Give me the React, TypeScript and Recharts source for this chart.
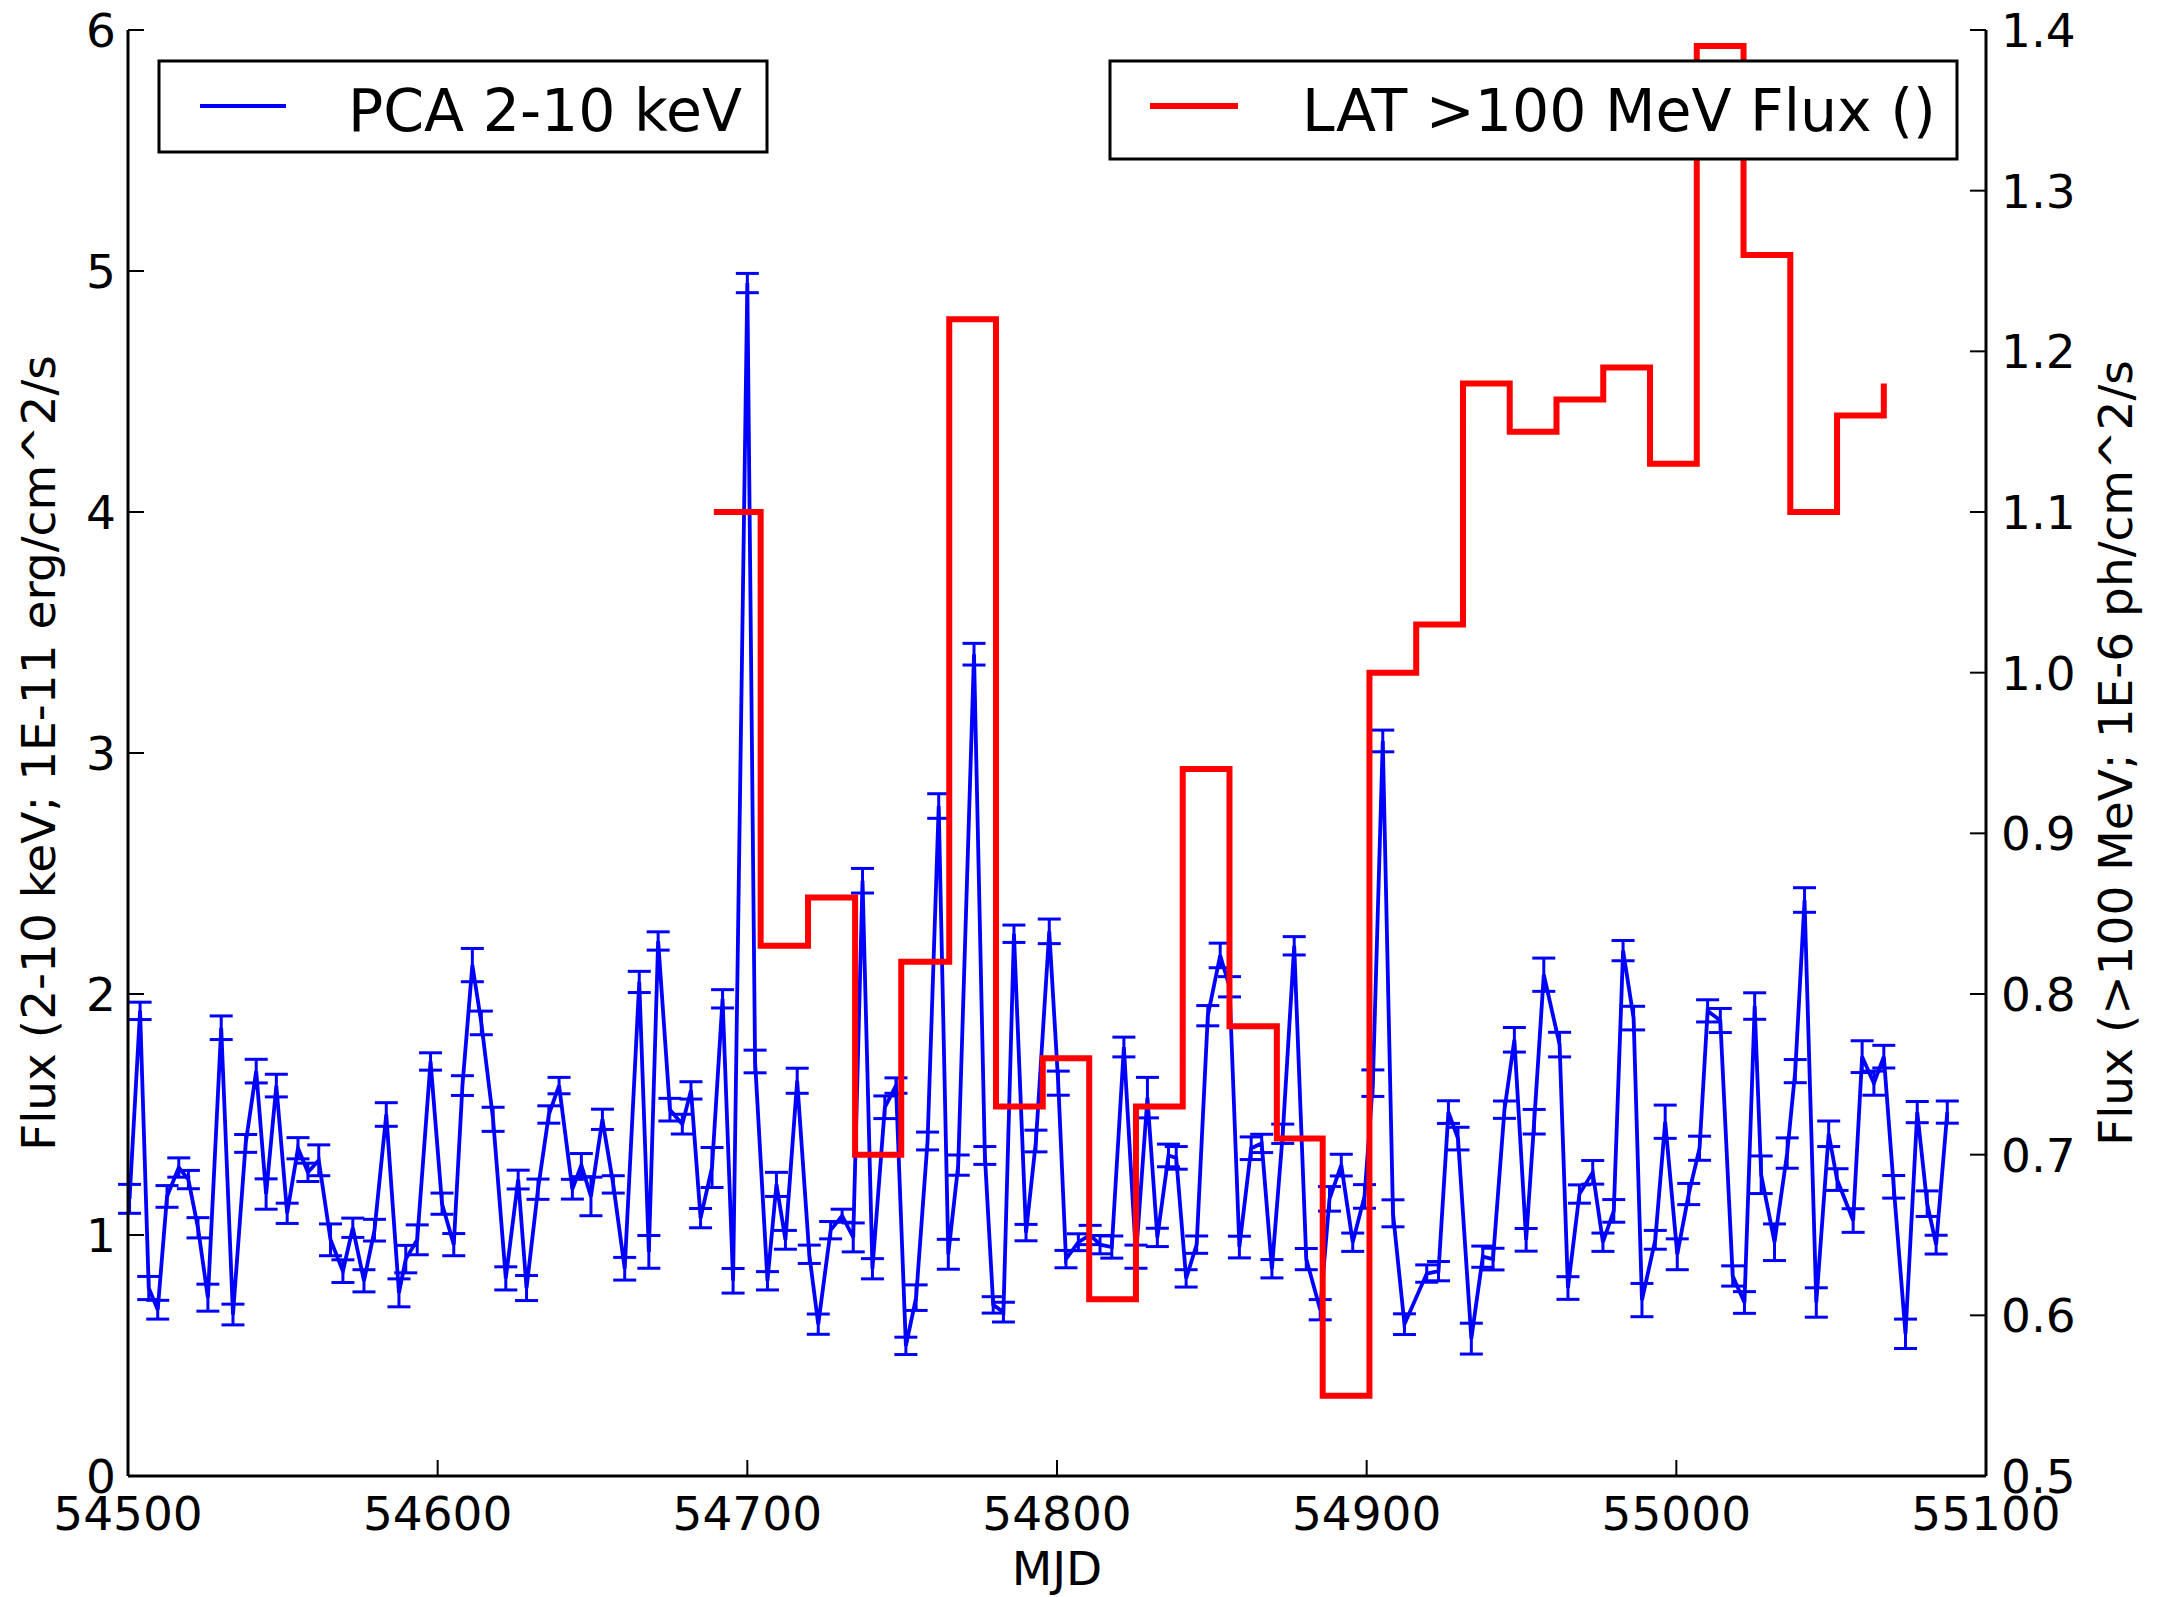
import React from "react";
import { LineChart, Line, XAxis, YAxis, ErrorBar, Legend } from "recharts";

// RXTE PCA 2-10 keV light curve (MJD, flux in 1E-11 erg/cm^2/s, 1-sigma error)
const pcaMjd = [
  54500.5, 54503.9, 54506.7, 54509.6, 54512.6, 54516.4, 54519.5, 54522.6, 54525.8, 54530.1,
  54533.9, 54538.0, 54541.4, 54544.6, 54547.9, 54551.4, 54554.9, 54558.1, 54561.6, 54565.4,
  54569.4, 54572.6, 54576.2, 54579.6, 54583.4, 54587.5, 54589.7, 54593.4, 54597.7, 54601.4,
  54605.2, 54608.0, 54611.2, 54614.1, 54617.9, 54622.0, 54626.0, 54628.7, 54632.4, 54635.9,
  54639.2, 54643.5, 54646.4, 54649.5, 54653.2, 54656.7, 54660.4, 54665.1, 54668.2, 54671.2,
  54675.0, 54679.0, 54681.8, 54684.9, 54688.6, 54692.0, 54695.4, 54700.0, 54702.5, 54706.5,
  54709.4, 54712.3, 54716.1, 54720.0, 54722.9, 54726.9, 54730.6, 54734.2, 54737.2, 54740.4,
  54744.4, 54748.0, 54751.2, 54754.5, 54758.2, 54761.8, 54764.9, 54768.1, 54773.2, 54776.7,
  54779.4, 54782.7, 54786.1, 54790.0, 54793.2, 54797.5, 54800.4, 54802.9, 54806.9, 54810.7,
  54813.9, 54817.7, 54821.6, 54825.5, 54829.2, 54832.4, 54836.0, 54838.5, 54841.7, 54845.1,
  54848.7, 54852.7, 54855.7, 54858.9, 54862.7, 54866.1, 54869.4, 54872.9, 54876.6, 54880.5,
  54885.0, 54888.0, 54891.8, 54895.5, 54899.3, 54902.0, 54905.2, 54908.5, 54912.2, 54919.4,
  54923.2, 54926.4, 54929.5, 54933.8, 54937.5, 54940.8, 54944.5, 54947.7, 54951.5, 54954.1,
  54957.2, 54962.3, 54965.0, 54968.7, 54973.0, 54976.3, 54979.8, 54982.8, 54986.2, 54988.9,
  54993.2, 54996.4, 55000.3, 55004.0, 55007.5, 55010.1, 55014.2, 55018.2, 55022.0, 55025.3,
  55027.4, 55031.7, 55035.8, 55038.4, 55041.4, 55045.2, 55049.2, 55051.9, 55057.1, 55060.0,
  55063.8, 55067.0, 55070.2, 55074.0, 55077.8, 55081.0, 55083.9, 55087.5,
];
const pcaFlux = [
  1.15, 1.93, 0.78, 0.69, 1.16, 1.28, 1.23, 1.03, 0.74, 1.86,
  0.67, 1.38, 1.68, 1.17, 1.62, 1.09, 1.36, 1.26, 1.31, 0.98,
  0.85, 1.03, 0.81, 1.02, 1.50, 0.76, 0.90, 0.98, 1.72, 1.13,
  0.96, 1.62, 2.12, 1.88, 1.48, 0.82, 1.23, 0.78, 1.19, 1.50,
  1.62, 1.19, 1.29, 1.16, 1.48, 1.21, 0.86, 2.05, 0.93, 2.22,
  1.52, 1.46, 1.60, 1.07, 1.28, 1.98, 0.81, 4.95, 1.72, 0.81,
  1.21, 0.98, 1.64, 0.92, 0.63, 1.02, 1.08, 0.99, 2.47, 0.86,
  1.53, 1.62, 0.54, 0.74, 1.39, 2.78, 0.92, 1.29, 3.41, 1.33,
  0.71, 0.68, 2.25, 1.01, 1.39, 2.26, 1.63, 0.90, 0.97, 1.00,
  0.96, 0.95, 1.78, 0.91, 1.57, 0.99, 1.33, 1.32, 0.82, 0.96,
  1.91, 2.16, 2.03, 0.95, 1.36, 1.38, 0.86, 1.42, 2.20, 0.90,
  0.69, 1.15, 1.29, 0.97, 1.16, 1.63, 3.05, 1.09, 0.63, 0.84,
  0.85, 1.51, 1.40, 0.57, 0.91, 0.90, 1.52, 1.81, 0.98, 1.47,
  2.08, 1.79, 0.78, 1.17, 1.26, 0.97, 1.10, 2.18, 1.90, 0.73,
  0.98, 1.47, 0.92, 1.17, 1.36, 1.93, 1.89, 0.83, 0.72, 1.95,
  1.25, 0.97, 1.34, 1.68, 2.39, 0.72, 1.42, 1.23, 1.06, 1.74,
  1.63, 1.74, 1.20, 0.59, 1.51, 1.13, 0.96, 1.51,
];
const pcaErr = [
  0.06, 0.036, 0.048, 0.039, 0.045, 0.04, 0.038, 0.042, 0.056, 0.049,
  0.043, 0.037, 0.049, 0.063, 0.047, 0.042, 0.044, 0.038, 0.064, 0.066,
  0.047, 0.04, 0.046, 0.045, 0.049, 0.058, 0.057, 0.062, 0.036, 0.044,
  0.046, 0.041, 0.069, 0.049, 0.05, 0.048, 0.039, 0.052, 0.042, 0.036,
  0.034, 0.041, 0.048, 0.08, 0.042, 0.036, 0.047, 0.044, 0.068, 0.038,
  0.047, 0.041, 0.036, 0.04, 0.083, 0.038, 0.051, 0.04, 0.047, 0.038,
  0.05, 0.039, 0.052, 0.038, 0.042, 0.036, 0.027, 0.06, 0.051, 0.042,
  0.047, 0.032, 0.036, 0.053, 0.037, 0.051, 0.062, 0.042, 0.045, 0.037,
  0.034, 0.041, 0.036, 0.034, 0.045, 0.051, 0.05, 0.036, 0.035, 0.04,
  0.038, 0.046, 0.041, 0.048, 0.084, 0.038, 0.047, 0.047, 0.036, 0.036,
  0.042, 0.051, 0.042, 0.045, 0.047, 0.038, 0.038, 0.04, 0.038, 0.044,
  0.042, 0.051, 0.045, 0.038, 0.049, 0.055, 0.045, 0.056, 0.043, 0.036,
  0.04, 0.047, 0.047, 0.064, 0.044, 0.045, 0.036, 0.051, 0.047, 0.051,
  0.069, 0.051, 0.047, 0.038, 0.049, 0.038, 0.047, 0.042, 0.049, 0.069,
  0.039, 0.069, 0.064, 0.044, 0.05, 0.046, 0.05, 0.042, 0.045, 0.055,
  0.078, 0.076, 0.063, 0.048, 0.051, 0.061, 0.053, 0.045, 0.049, 0.066,
  0.05, 0.047, 0.047, 0.061, 0.044, 0.053, 0.039, 0.046,
];

// Fermi LAT >100 MeV binned flux (bin start MJD, 1E-6 ph/cm^2/s)
const latMjd = [
  54689.2, 54704.3, 54719.6, 54734.8, 54749.7, 54765.2, 54780.3, 54795.4, 54810.4, 54825.5,
  54840.6, 54855.7, 54871.0, 54885.8, 54900.9, 54916.0, 54931.1, 54946.2, 54961.3, 54976.4,
  54991.5, 55006.6, 55021.7, 55036.8, 55051.9, 55067.0,
];
const latFlux = [
  1.10, 0.83, 0.86, 0.70, 0.82, 1.22, 0.73, 0.76, 0.61, 0.73,
  0.94, 0.78, 0.71, 0.55, 1.00, 1.03, 1.18, 1.15, 1.17, 1.19,
  1.13, 1.39, 1.26, 1.10, 1.16, 1.18,
];

const mjdTicks = [54500, 54600, 54700, 54800, 54900, 55000, 55100];
const pcaTicks = [0, 1, 2, 3, 4, 5, 6];
const latTicks = [0.5, 0.6, 0.7, 0.8, 0.9, 1.0, 1.1, 1.2, 1.3, 1.4];

const pcaName = "PCA 2-10 keV";
const latName = "LAT >100 MeV Flux ()";
const xTitle = "MJD";
const leftTitle = "Flux (2-10 keV; 1E-11 erg/cm^2/s";
const rightTitle = "Flux (>100 MeV; 1E-6 ph/cm^2/s";

const pcaData = pcaMjd.map((mjd, i) => ({ mjd, flux: pcaFlux[i], err: pcaErr[i] }));
const latData = latMjd.map((mjd, i) => ({ mjd, flux: latFlux[i] }));

const W = 2167;
const H = 1597;
const LEFT = 128;
const RIGHT = 1986;
const TOP = 30;
const BOTTOM = 1476;
const FONT = "DejaVu Sans";
const TICK_FS = 47;
const TICK_LEN = 16;
const BLUE = "#0000ff";
const RED = "#ff0000";

function BottomTick(p: any) {
  return (
    <g>
      <line x1={p.x} x2={p.x} y1={p.y} y2={p.y - TICK_LEN} stroke="#000" strokeWidth={2} />
      <text x={p.x} y={p.y + 54} textAnchor="middle" fontSize={TICK_FS} fontFamily={FONT} fill="#000">
        {p.payload.value}
      </text>
    </g>
  );
}

function TopTick(p: any) {
  return <line x1={p.x} x2={p.x} y1={p.y} y2={p.y + TICK_LEN} stroke="#000" strokeWidth={2} />;
}

function LeftTick(p: any) {
  return (
    <g>
      <line x1={p.x} x2={p.x + TICK_LEN} y1={p.y} y2={p.y} stroke="#000" strokeWidth={2} />
      <text x={p.x - 12} y={p.y + 17} textAnchor="end" fontSize={TICK_FS} fontFamily={FONT} fill="#000">
        {p.payload.value}
      </text>
    </g>
  );
}

function RightTick(p: any) {
  return (
    <g>
      <line x1={p.x} x2={p.x - TICK_LEN} y1={p.y} y2={p.y} stroke="#000" strokeWidth={2} />
      <text x={p.x + 15} y={p.y + 17} textAnchor="start" fontSize={TICK_FS} fontFamily={FONT} fill="#000">
        {Number(p.payload.value).toFixed(1)}
      </text>
    </g>
  );
}

function XTitle() {
  return (
    <text x={(LEFT + RIGHT) / 2} y={1585} textAnchor="middle" fontSize={TICK_FS} fontFamily={FONT} fill="#000">
      {xTitle}
    </text>
  );
}

// rotated axis title; baseline sits at page x = posX
function VTitle({ posX, text }: { posX: number; text: string }) {
  const cy = (TOP + BOTTOM) / 2;
  return (
    <text
      x={posX}
      y={cy}
      transform={`rotate(-90, ${posX}, ${cy})`}
      textAnchor="middle"
      fontSize={TICK_FS}
      fontFamily={FONT}
      fill="#000"
    >
      {text}
    </text>
  );
}

function LegendBoxes() {
  const fs = 58.5;
  return (
    <svg width={W} height={H} style={{ position: "absolute", left: 0, top: 0, overflow: "visible", pointerEvents: "none" }}>
      <rect x={159} y={61} width={608} height={91} fill="#fff" stroke="#000" strokeWidth={3} />
      <line x1={200} x2={286} y1={106} y2={106} stroke={BLUE} strokeWidth={3.8} />
      <text x={348} y={131} fontSize={fs} fontFamily={FONT} fill="#000">
        {pcaName}
      </text>
      <rect x={1110} y={61} width={847} height={98} fill="#fff" stroke="#000" strokeWidth={3} />
      <line x1={1150} x2={1238} y1={106} y2={106} stroke={RED} strokeWidth={6} />
      <text x={1302} y={131} fontSize={fs} fontFamily={FONT} fill="#000">
        {latName}
      </text>
    </svg>
  );
}

export default function App() {
  return (
    <div style={{ position: "absolute", left: 0, top: 0, width: W, height: H, background: "#fff" }}>
      <LineChart width={W} height={H} margin={{ top: TOP, right: 0, bottom: 0, left: 0 }}>
        <XAxis
          xAxisId="main"
          dataKey="mjd"
          type="number"
          domain={[54500, 55100]}
          ticks={mjdTicks}
          interval={0}
          allowDataOverflow
          height={H - BOTTOM}
          tickSize={0}
          tickMargin={0}
          tick={(p: any) => <BottomTick {...p} />}
          axisLine={{ stroke: "#000", strokeWidth: 3 }}
          label={<XTitle />}
        />
        <XAxis
          xAxisId="top"
          orientation="top"
          dataKey="mjd"
          type="number"
          domain={[54500, 55100]}
          ticks={mjdTicks}
          interval={0}
          allowDataOverflow
          height={0}
          tickSize={0}
          tickMargin={0}
          tick={(p: any) => <TopTick {...p} />}
          axisLine={{ stroke: "#000", strokeWidth: 3 }}
        />
        <YAxis
          yAxisId="left"
          type="number"
          domain={[0, 6]}
          ticks={pcaTicks}
          interval={0}
          allowDataOverflow
          width={LEFT}
          tickSize={0}
          tickMargin={0}
          tick={(p: any) => <LeftTick {...p} />}
          axisLine={{ stroke: "#000", strokeWidth: 3 }}
          label={<VTitle posX={55} text={leftTitle} />}
        />
        <YAxis
          yAxisId="right"
          orientation="right"
          type="number"
          domain={[0.5, 1.4]}
          ticks={latTicks}
          interval={0}
          allowDataOverflow
          width={W - RIGHT}
          tickSize={0}
          tickMargin={0}
          tick={(p: any) => <RightTick {...p} />}
          axisLine={{ stroke: "#000", strokeWidth: 3 }}
          label={<VTitle posX={2132} text={rightTitle} />}
        />
        <Line
          data={pcaData}
          xAxisId="main"
          yAxisId="left"
          dataKey="flux"
          type="linear"
          stroke={BLUE}
          strokeWidth={3.8}
          dot={false}
          activeDot={false}
          isAnimationActive={false}
        >
          <ErrorBar dataKey="err" direction="y" width={11.5} stroke={BLUE} strokeWidth={3} isAnimationActive={false} />
        </Line>
        <Line
          data={latData}
          xAxisId="main"
          yAxisId="right"
          dataKey="flux"
          type="stepAfter"
          stroke={RED}
          strokeWidth={6}
          strokeLinejoin="miter"
          dot={false}
          activeDot={false}
          isAnimationActive={false}
        />
        <Legend
          verticalAlign="middle"
          align="center"
          layout="horizontal"
          wrapperStyle={{ left: 0, top: 0, width: W, height: 0 }}
          content={() => <LegendBoxes />}
        />
      </LineChart>
    </div>
  );
}
